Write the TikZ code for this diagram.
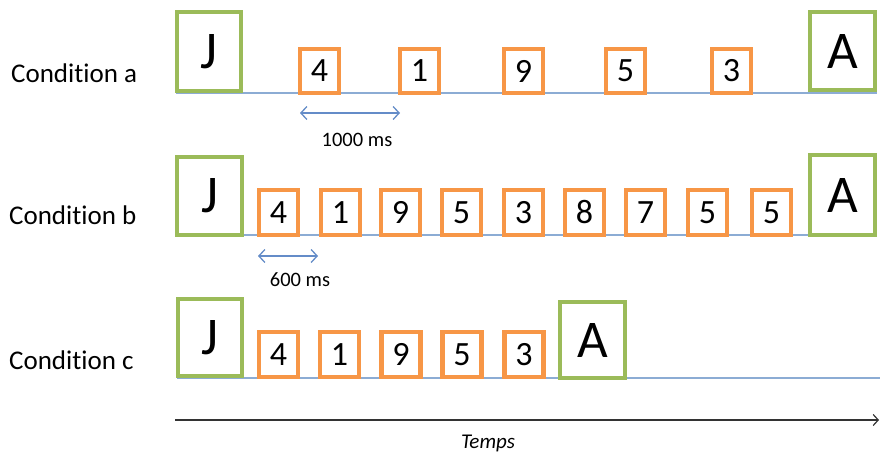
\documentclass[tikz,border=0pt]{standalone}
\usepackage{fontspec}
\setmainfont{Carlito}[Ligatures=NoCommon]
\usetikzlibrary{arrows.meta}
\definecolor{boxgreen}{RGB}{155,187,89}
\definecolor{boxorange}{RGB}{247,150,70}
\definecolor{tline}{RGB}{140,172,212}
\definecolor{tarrow}{RGB}{100,140,200}
\tikzset{
  letterbox/.style={draw=boxgreen, line width=4.3pt, fill=white, inner sep=0pt,
    font=\fontsize{53}{56}\selectfont},
  digitbox/.style={draw=boxorange, line width=4.3pt, fill=white, inner sep=0pt,
    minimum width=39pt, font=\fontsize{34}{38}\selectfont},
  timeline/.style={draw=tline, line width=1.6pt},
  durarrow/.style={draw=tarrow, line width=1.3pt, {Straight Barb[length=6pt,width=13pt]}-{Straight Barb[length=6pt,width=13pt]}},
  condlabel/.style={anchor=west, inner sep=0pt, font=\fontsize{27}{30}\selectfont},
  smalllabel/.style={inner sep=0pt, font=\fontsize{20.5}{23}\selectfont}
}
\begin{document}
\begin{tikzpicture}[x=1pt,y=-1pt]
\useasboundingbox (0,0) rectangle (880,457);
% ---------- Condition a ----------
\node[condlabel] (la) at (11,73) {Condit\kern0pt ion a};
\coordinate (a0) at (176,93);
\coordinate (a1) at (877,93);
\draw[timeline] (a0) -- (a1);
\node[letterbox, minimum width=64pt, minimum height=79pt] (aJ) at (209,51.5) {J};
\node[digitbox, minimum height=44pt] (a1b) at (319.5,71) {4};
\node[digitbox, minimum height=44pt] (a2b) at (419.5,71) {1};
\node[digitbox, minimum height=44pt] (a3b) at (523.5,71) {9};
\node[digitbox, minimum height=44pt] (a4b) at (625.5,71) {5};
\node[digitbox, minimum height=44pt] (a5b) at (731.5,71) {3};
\node[letterbox, minimum width=65pt, minimum height=78pt] (aA) at (842.5,51) {A};
\coordinate (ad0) at (300,113);
\coordinate (ad1) at (400,113);
\draw[durarrow] (ad0) -- (ad1);
\node[smalllabel] (ald) at (357,140) {1000 ms};
% ---------- Condition b ----------
\node[condlabel] (lb) at (9,215) {Condit\kern0pt ion b};
\coordinate (b0) at (176,235);
\coordinate (b1) at (877,235);
\draw[timeline] (b0) -- (b1);
\node[letterbox, minimum width=65pt, minimum height=78pt] (bJ) at (209.5,196) {J};
\foreach \x/\d [count=\i] in {278.5/4,340.5/1,400.5/9,461.5/5,523.5/3,584.5/8,645.5/7,707.5/5,771.5/5}
  \node[digitbox, minimum height=45pt] (b\i b) at (\x,212.5) {\d};
\node[letterbox, minimum width=65pt, minimum height=80pt] (bA) at (842.5,195) {A};
\coordinate (bd0) at (258,256);
\coordinate (bd1) at (318,256);
\draw[durarrow] (bd0) -- (bd1);
\node[smalllabel] (bld) at (300,280) {600 ms};
% ---------- Condition c ----------
\node[condlabel] (lc) at (9,360) {Condit\kern0pt ion c};
\coordinate (c0) at (177,378);
\coordinate (c1) at (880,378);
\draw[timeline] (c0) -- (c1);
\node[letterbox, minimum width=64pt, minimum height=77pt] (cJ) at (210,337.5) {J};
\foreach \x/\d [count=\i] in {278.5/4,339.5/1,401/9,462/5,524/3}
  \node[digitbox, minimum height=45pt] (c\i b) at (\x,354.5) {\d};
\node[letterbox, minimum width=65pt, minimum height=76pt] (cA) at (592.5,340) {A};
% ---------- Time axis ----------
\coordinate (t0) at (175,420);
\coordinate (t1) at (879,420);
\draw[line width=1.2pt, draw=black!80, -{Straight Barb[length=5pt,width=11pt]}] (t0) -- (t1);
\node[smalllabel, font=\fontsize{21}{23}\selectfont\itshape] (tl) at (488,443) {Temps};
\end{tikzpicture}
\end{document}
